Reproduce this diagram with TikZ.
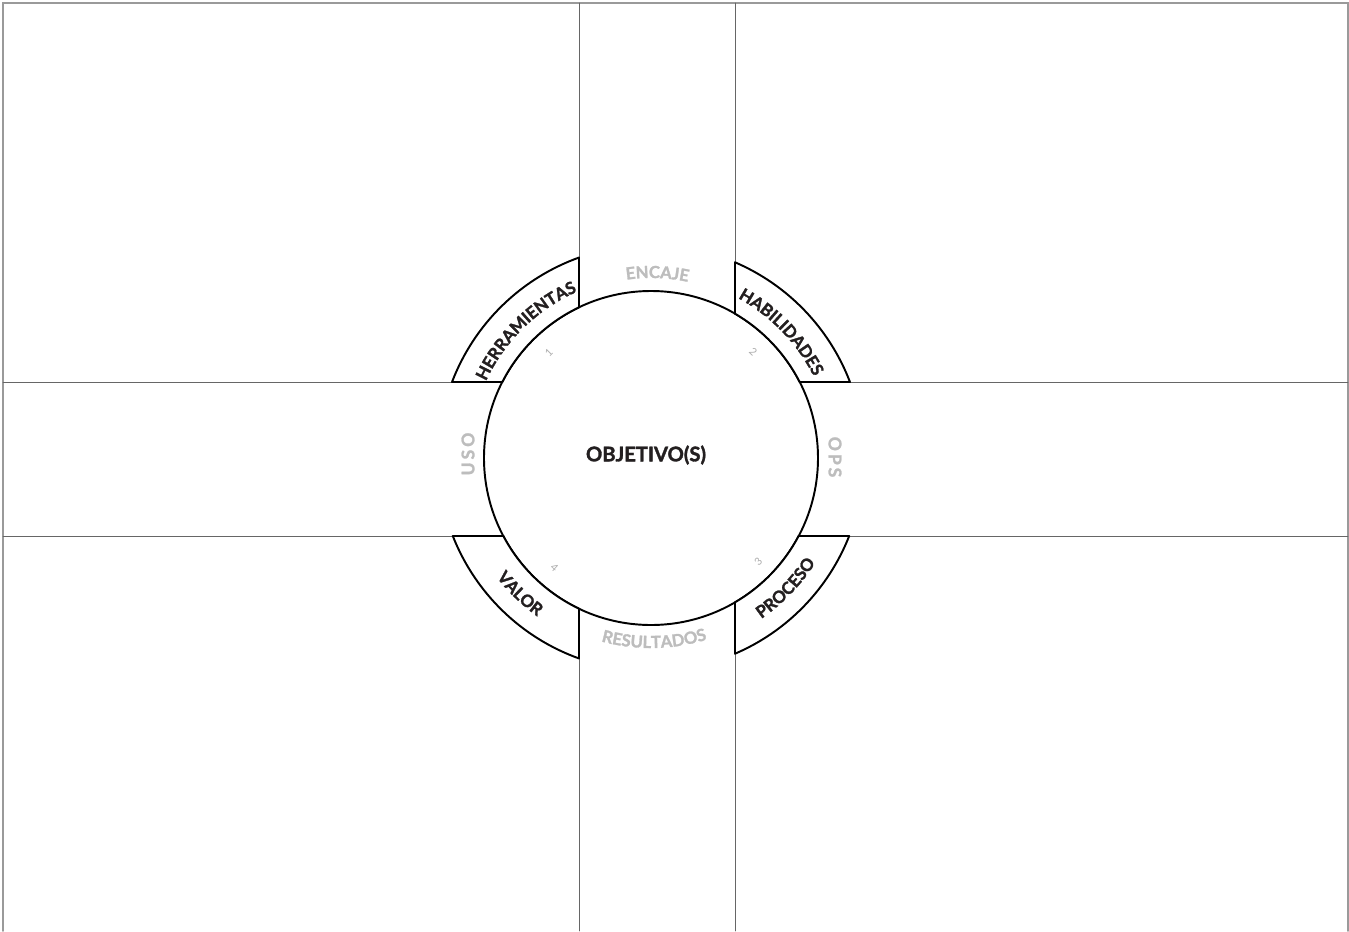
\documentclass[tikz,border=0pt]{standalone}
\usepackage{fontspec}
\setmainfont{Lato}[BoldFeatures={FakeBold=1.6}]
\usetikzlibrary{decorations.text}

\definecolor{gridgray}{HTML}{666666}
\definecolor{framegray}{HTML}{9A9A9A}
\definecolor{labelgray}{HTML}{BDBDBD}
\definecolor{numgray}{HTML}{ADADAD}
\definecolor{ink}{HTML}{231F20}

\newcommand{\bandfont}{\fontsize{9.6}{11}\selectfont\bfseries\color{ink}}
\newcommand{\sidefont}{\fontsize{9.5}{11}\selectfont\bfseries\color{labelgray}}

\tikzset{
  grid line/.style={draw=gridgray, line width=0.5pt},
  frame line/.style={draw=framegray, line width=0.9pt},
  band/.style={draw=black, fill=white, line width=1.1pt, line join=round},
  side label/.style={text=labelgray, font=\fontsize{10}{11}\selectfont\bfseries},
  num label/.style={text=numgray, font=\fontsize{6}{7}\selectfont},
  arc text/.style={decorate, decoration={text along path, text align=center, text={#1}}}
}

\begin{document}
\begin{tikzpicture}[x=0.02cm,y=0.02cm,line cap=round]
\useasboundingbox (-651,-473) rectangle (698,458);

% radii and grid positions
\def\ri{167}
\def\ro{213}

% outer frame (open at the bottom)
\draw[frame line] (-648,-473) -- (-648,455) -- (697,455) -- (697,-473);

% grid
\draw[grid line] (-72,455) -- (-72,-473);
\draw[grid line] (84,455) -- (84,-473);
\draw[grid line] (-648,76) -- (697,76);
\draw[grid line] (-648,-78) -- (697,-78);

% centre circle
\draw[band] (0,0) circle[radius=\ri];
\node[font=\fontsize{11.5}{13}\selectfont\bfseries, text=ink] (obj) at (-5,3) {OBJETIVO(S)};

% band 1, top left
\draw[band] ({180-asin(76/\ro)}:\ro) arc[start angle={180-asin(76/\ro)}, end angle={acos(-72/\ro)}, radius=\ro]
  -- ({acos(-72/\ri)}:\ri) arc[start angle={acos(-72/\ri)}, end angle={180-asin(76/\ri)}, radius=\ri] -- cycle;
\path[arc text={|\bandfont|HERRAMIENTAS}] (164.5:182) arc[start angle=164.5, end angle=104.5, radius=182];

% band 2, top right
\draw[band] ({acos(84/\ro)}:\ro) arc[start angle={acos(84/\ro)}, end angle={asin(76/\ro)}, radius=\ro]
  -- ({asin(76/\ri)}:\ri) arc[start angle={asin(76/\ri)}, end angle={acos(84/\ri)}, radius=\ri] -- cycle;
\path[arc text={|\bandfont|HABILIDADES}] (74:182) arc[start angle=74, end angle=14, radius=182];

% band 3, bottom right
\draw[band] ({asin(-78/\ro)}:\ro) arc[start angle={asin(-78/\ro)}, end angle={-acos(84/\ro)}, radius=\ro]
  -- ({-acos(84/\ri)}:\ri) arc[start angle={-acos(84/\ri)}, end angle={asin(-78/\ri)}, radius=\ri] -- cycle;
\path[arc text={|\bandfont|PROCESO}] (-74:195) arc[start angle=-74, end angle=-14, radius=195];

% band 4, bottom left
\draw[band] ({180+asin(78/\ro)}:\ro) arc[start angle={180+asin(78/\ro)}, end angle={360-acos(-72/\ro)}, radius=\ro]
  -- ({360-acos(-72/\ri)}:\ri) arc[start angle={360-acos(-72/\ri)}, end angle={180+asin(78/\ri)}, radius=\ri] -- cycle;
\path[arc text={|\bandfont|VALOR}] (196:195) arc[start angle=196, end angle=256, radius=195];

% grey side labels
\path[arc text={|\sidefont|ENCAJE}] (118:180) arc[start angle=118, end angle=58, radius=180];
\path[arc text={|\sidefont|RESULTADOS}] (-119:190) arc[start angle=-119, end angle=-59, radius=190];
\node[side label, rotate=90] (uso) at (-183,4) {U\,S\,O};
\node[side label, rotate=-90] (ops) at (184,1) {O\,P\,S};

% numbers
\node[num label, rotate=45] (n1) at (134:147) {1};
\node[num label, rotate=-44] (n2) at (46:147) {2};
\node[num label, rotate=46] (n3) at (-44:149) {3};
\node[num label, rotate=-42] (n4) at (228.6:146) {4};

\end{tikzpicture}
\end{document}
